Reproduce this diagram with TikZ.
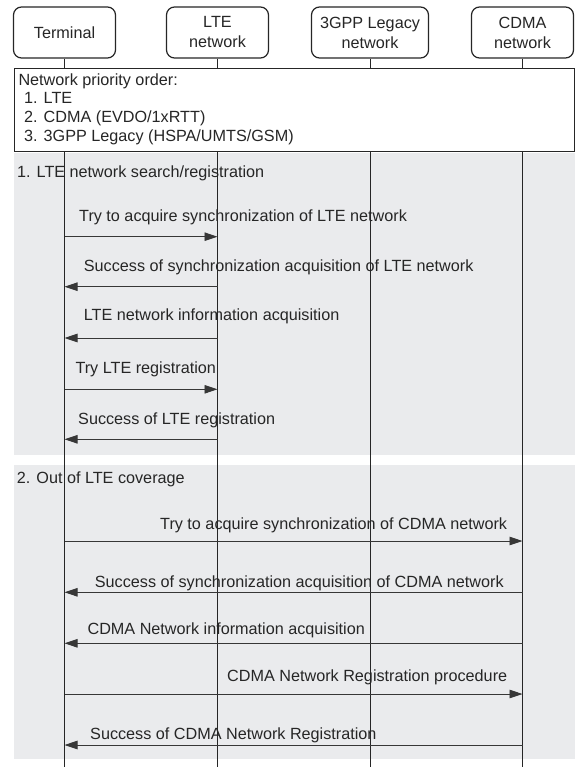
\documentclass[tikz,border=0pt]{standalone}
\usepackage{fontspec}
\setmainfont{Liberation Sans}
\usetikzlibrary{arrows.meta}
\definecolor{band}{RGB}{234,235,237}
\definecolor{ink}{RGB}{38,38,38}
\definecolor{wire}{RGB}{55,55,55}
\begin{document}
\begin{tikzpicture}[x=1pt,y=-1pt,
  every node/.style={font=\fontsize{16.2}{20}\selectfont, text=ink, inner sep=0pt},
  actor/.style={draw=ink, line width=1.2pt, rounded corners=8pt, fill=white,
    align=center, minimum height=51pt},
  lifeline/.style={draw=ink, line width=0.8pt},
  msg/.style={draw=wire, line width=0.9pt, -{Triangle[length=13pt,width=8.5pt]}},
  lbl/.style={anchor=base west},
  section/.style={fill=band, draw=none}
]
\useasboundingbox (0,0) rectangle (575,767);

% shaded phases
\fill[section] (13.5,153) rectangle (575,455);
\fill[section] (13.5,465) rectangle (575,759);

% participants
\node[actor, minimum width=102pt] (term) at (64.5,32.5) {Terminal};
\node[actor, minimum width=102pt] (lte)  at (217.5,32.5) {LTE\\network};
\node[actor, minimum width=117pt] (leg)  at (370,32.5) {3GPP Legacy\\network};
\node[actor, minimum width=102pt] (cdma) at (522.5,32.5) {CDMA\\network};

% lifelines
\coordinate (bottom) at (0,767);
\foreach \p in {term,lte,leg,cdma}
  \draw[lifeline] (\p.south) -- (\p.south |- bottom);

% priority note
\node[draw=ink, line width=0.9pt, fill=white, minimum width=560pt, minimum height=83pt,
  anchor=north west] (note) at (14,68) {};
\node[lbl] (n0) at (18.3,85.7) {Network priority order:};
\node[lbl] (n1) at (24,104) {1. LTE};
\node[lbl] (n2) at (24,123) {2. CDMA (EVDO/1xRTT)};
\node[lbl] (n3) at (24,141.7) {3. 3GPP Legacy (HSPA/UMTS/GSM)};

% message levels
\coordinate (y1) at (0,236.7);
\coordinate (y2) at (0,286.7);
\coordinate (y3) at (0,338);
\coordinate (y4) at (0,389.3);
\coordinate (y5) at (0,439.3);
\coordinate (y6) at (0,541);
\coordinate (y7) at (0,592.3);
\coordinate (y8) at (0,643.3);
\coordinate (y9) at (0,694);
\coordinate (y10) at (0,745);

% phase 1
\node[lbl] (s1) at (17,177.2) {1. LTE network search/registration};
\node[lbl] (t1) at (79,221.4) {Try to acquire synchronization of LTE network};
\draw[msg] (term |- y1) -- (lte |- y1);
\node[lbl] (t2) at (83.7,271.4) {Success of synchronization acquisition of LTE network};
\draw[msg] (lte |- y2) -- (term |- y2);
\node[lbl] (t3) at (83.7,320) {LTE network information acquisition};
\draw[msg] (lte |- y3) -- (term |- y3);
\node[lbl] (t4) at (75.3,373) {Try LTE registration};
\draw[msg] (term |- y4) -- (lte |- y4);
\node[lbl] (t5) at (78,424.7) {Success of LTE registration};
\draw[msg] (lte |- y5) -- (term |- y5);

% phase 2
\node[lbl] (s2) at (16.7,483.7) {2. Out of LTE coverage};
\node[lbl] (t6) at (160,529) {Try to acquire synchronization of CDMA network};
\draw[msg] (term |- y6) -- (cdma |- y6);
\node[lbl] (t7) at (94.7,587.4) {Success of synchronization acquisition of CDMA network};
\draw[msg] (cdma |- y7) -- (term |- y7);
\node[lbl] (t8) at (87.4,634.7) {CDMA Network information acquisition};
\draw[msg] (cdma |- y8) -- (term |- y8);
\node[lbl] (t9) at (227,681.7) {CDMA Network Registration procedure};
\draw[msg] (term |- y9) -- (cdma |- y9);
\node[lbl] (t10) at (90,739) {Success of CDMA Network Registration};
\draw[msg] (cdma |- y10) -- (term |- y10);
\end{tikzpicture}
\end{document}
